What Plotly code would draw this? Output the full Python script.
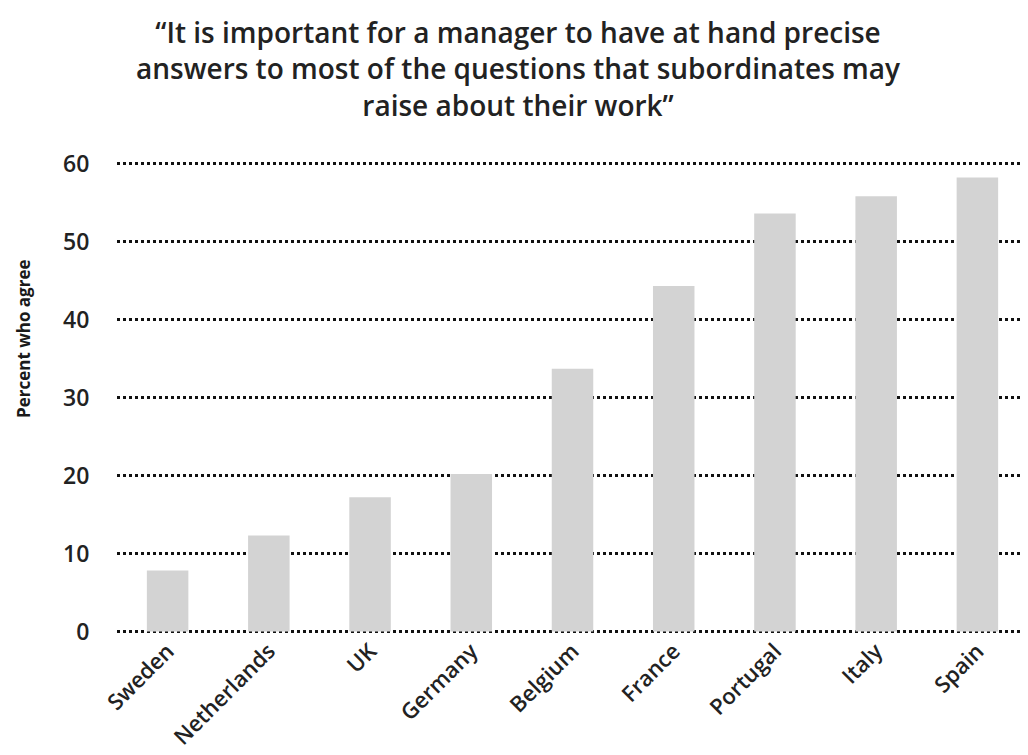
import plotly.graph_objects as go

countries = ["Sweden", "Netherlands", "UK", "Germany", "Belgium", "France", "Portugal", "Italy", "Spain"]
percent_agree = [7.8, 12.3, 17.2, 20.2, 33.7, 44.3, 53.6, 55.8, 58.2]
y_ticks = [0, 10, 20, 30, 40, 50, 60]

title_text = ("\u201cIt is important for a manager to have at hand precise<br>"
              "answers to most of the questions that subordinates may<br>"
              "raise about their work\u201d")
y_title = "Percent who agree"

W, H = 1020, 747
ML, MR, MT, MB = 109, 0, 154, 122
plot_w = W - ML - MR
plot_h = H - MT - MB

font_family = "Open Sans, DejaVu Sans, sans-serif"

fig = go.Figure(go.Bar(
    x=countries, y=percent_agree,
    marker=dict(color="#d3d3d3", line=dict(width=0)),
    width=0.41,
))

fig.update_layout(
    width=W, height=H,
    paper_bgcolor="white", plot_bgcolor="white",
    margin=dict(l=ML, r=MR, t=MT, b=MB, autoexpand=False),
    showlegend=False,
    font=dict(family=font_family, color="#222"),
    annotations=[
        dict(text=title_text, xref="paper", yref="paper",
             x=(W / 2 - ML) / plot_w, y=1 + (MT - 3) / plot_h,
             xanchor="center", yanchor="top", showarrow=False, align="center",
             font=dict(family=font_family, size=28, color="#222", weight=600)),
        dict(text=y_title, xref="paper", yref="paper",
             x=(15 - ML) / plot_w, y=1 - (331 - MT) / plot_h,
             xanchor="center", yanchor="middle", showarrow=False, textangle=-90,
             font=dict(family=font_family, size=17, color="#1a1a1a", weight=700)),
    ],
)

fig.update_xaxes(
    range=[-0.5, 8.5],
    tickangle=-45,
    tickfont=dict(family=font_family, size=22, color="#222", weight=600),
    showgrid=False, showline=False, zeroline=False,
    ticks="",
)
fig.update_yaxes(
    range=[-0.2, 60.2],
    tickvals=y_ticks,
    tickfont=dict(family=font_family, size=23, color="#222", weight=600),
    showgrid=True, gridcolor="#111111", gridwidth=2.5, griddash="dot",
    zeroline=False, showline=False,
    ticks="outside", ticklen=22, tickcolor="rgba(0,0,0,0)",
)

fig.write_html("out.html")
